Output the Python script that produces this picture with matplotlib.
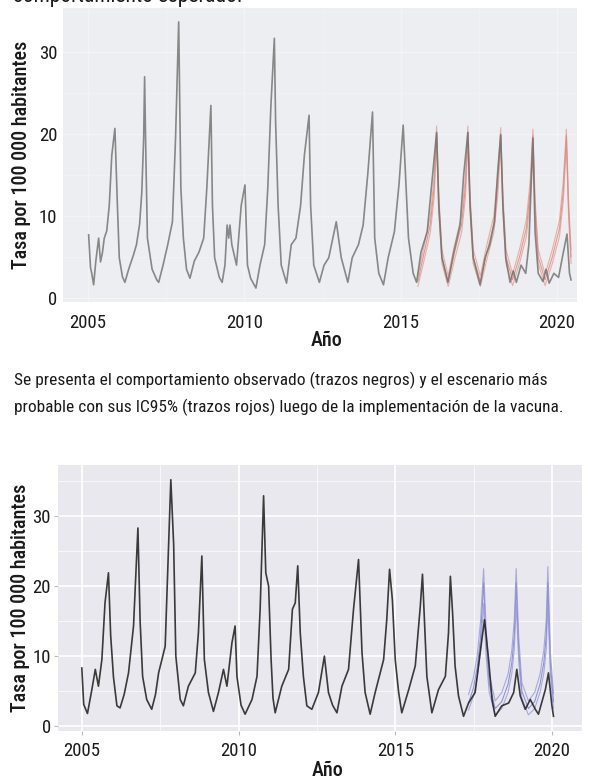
import matplotlib
matplotlib.use("Agg")
import matplotlib.pyplot as plt
from matplotlib import font_manager
from matplotlib.ticker import MultipleLocator

# ---------------- data ----------------
x_ticks = [2005, 2010, 2015, 2020]
y_ticks = [0, 10, 20, 30]

# Top panel: observed (grey) and expected scenario with IC95% (red)
top_obs_years = [2005.02, 2005.08, 2005.12, 2005.18, 2005.25, 2005.30, 2005.34, 2005.40, 2005.46, 2005.52,
                 2005.60, 2005.68, 2005.76, 2005.86, 2005.90, 2005.94, 2006.00, 2006.10, 2006.18, 2006.30,
                 2006.45, 2006.55, 2006.65, 2006.72, 2006.78, 2006.81, 2006.85, 2006.90, 2007.05, 2007.20,
                 2007.26, 2007.40, 2007.55, 2007.70, 2007.80, 2007.90, 2007.93, 2007.97, 2008.05, 2008.15,
                 2008.26, 2008.40, 2008.55, 2008.70, 2008.80, 2008.93, 2008.98, 2009.05, 2009.20, 2009.29,
                 2009.38, 2009.45, 2009.50, 2009.54, 2009.60, 2009.75, 2009.90, 2010.02, 2010.10, 2010.20,
                 2010.37, 2010.50, 2010.65, 2010.75, 2010.85, 2010.96, 2011.00, 2011.08, 2011.18, 2011.35,
                 2011.50, 2011.65, 2011.80, 2011.92, 2012.07, 2012.12, 2012.22, 2012.40, 2012.55, 2012.70,
                 2012.94, 2013.10, 2013.31, 2013.45, 2013.65, 2013.80, 2013.95, 2014.10, 2014.17, 2014.30,
                 2014.45, 2014.60, 2014.80, 2014.95, 2015.08, 2015.15, 2015.25, 2015.40, 2015.51, 2015.65,
                 2015.85, 2015.98, 2016.15, 2016.22, 2016.32, 2016.51, 2016.70, 2016.90, 2017.02, 2017.15,
                 2017.22, 2017.32, 2017.54, 2017.70, 2017.85, 2018.00, 2018.10, 2018.20, 2018.27, 2018.36,
                 2018.50, 2018.60, 2018.70, 2018.85, 2019.00, 2019.10, 2019.23, 2019.30, 2019.40, 2019.55,
                 2019.65, 2019.75, 2019.90, 2020.05, 2020.20, 2020.32, 2020.40, 2020.45]
top_obs_rate = [7.7, 3.7, 3.0, 1.6, 4.5, 6.0, 7.3, 4.4, 5.5, 7.3,
                8.2, 11.3, 17.4, 20.7, 16.0, 11.3, 4.9, 2.6, 1.9, 3.5,
                5.2, 6.5, 9.0, 12.9, 19.5, 27.0, 17.4, 7.3, 3.5, 2.2,
                1.9, 4.0, 6.5, 9.3, 19.5, 33.7, 24.8, 13.4, 7.3, 3.5,
                2.4, 4.5, 5.6, 7.3, 13.4, 23.5, 11.3, 4.9, 2.5, 1.9,
                4.0, 8.9, 7.3, 8.9, 6.5, 4.0, 11.3, 13.8, 4.0, 2.4,
                1.2, 4.0, 6.5, 13.4, 23.5, 31.7, 21.5, 11.3, 4.0, 1.8,
                6.5, 7.3, 11.3, 17.4, 22.3, 11.3, 4.0, 1.9, 4.0, 4.9,
                9.3, 4.9, 1.9, 4.9, 6.5, 8.9, 15.2, 22.7, 7.3, 3.0,
                1.6, 4.9, 8.1, 14.0, 21.1, 15.4, 7.3, 3.0, 1.9, 5.6,
                8.1, 13.4, 20.2, 11.3, 4.9, 1.9, 5.6, 8.9, 15.2, 20.2,
                11.3, 4.9, 1.6, 4.9, 6.5, 9.3, 15.2, 19.9, 11.3, 4.9,
                1.9, 3.3, 1.9, 4.0, 3.0, 6.5, 19.5, 8.0, 3.0, 2.0,
                3.5, 1.8, 3.0, 2.5, 5.5, 7.8, 3.0, 2.2]

top_exp_years = [2015.55, 2015.75, 2015.95, 2016.07, 2016.15, 2016.22, 2016.32, 2016.52, 2016.72, 2016.95,
                 2017.07, 2017.15, 2017.22, 2017.32, 2017.55, 2017.75, 2017.98, 2018.10, 2018.20, 2018.27,
                 2018.37, 2018.58, 2018.80, 2019.02, 2019.14, 2019.23, 2019.30, 2019.40, 2019.62, 2019.85,
                 2020.08, 2020.20, 2020.30, 2020.37, 2020.45]
top_exp_rate = [2.0, 5.5, 9.0, 13.5, 20.2, 11.5, 5.0, 2.0, 5.5, 9.0,
                13.5, 20.2, 11.5, 5.0, 2.0, 5.5, 9.0, 13.5, 20.0, 11.5,
                5.0, 2.2, 5.0, 8.5, 13.0, 19.8, 11.0, 5.0, 2.2, 5.0,
                8.5, 13.0, 19.8, 11.0, 5.0]
top_exp_low = [1.4, 4.6, 8.0, 12.2, 19.0, 10.4, 4.2, 1.4, 4.6, 8.0,
               12.2, 19.0, 10.4, 4.2, 1.4, 4.6, 8.0, 12.2, 18.8, 10.4,
               4.2, 1.5, 4.2, 7.5, 11.8, 18.6, 10.0, 4.2, 1.5, 4.2,
               7.5, 11.8, 18.6, 10.0, 4.2]
top_exp_high = [2.7, 6.4, 10.0, 14.8, 21.0, 12.6, 5.9, 2.7, 6.4, 10.0,
                14.8, 21.0, 12.6, 5.9, 2.7, 6.4, 10.0, 14.8, 20.8, 12.6,
                5.9, 2.9, 5.9, 9.5, 14.2, 20.6, 12.0, 5.9, 2.9, 5.9,
                9.5, 14.2, 20.6, 12.0, 5.9]

# Bottom panel: observed (black) and expected scenario with IC95% (blue)
bot_obs_years = [2005.00, 2005.06, 2005.18, 2005.25, 2005.32, 2005.43, 2005.53, 2005.64, 2005.74, 2005.85,
                 2005.92, 2006.01, 2006.12, 2006.22, 2006.35, 2006.49, 2006.65, 2006.79, 2006.86, 2006.94,
                 2007.07, 2007.23, 2007.35, 2007.45, 2007.66, 2007.77, 2007.84, 2007.93, 2008.00, 2008.14,
                 2008.24, 2008.40, 2008.62, 2008.72, 2008.83, 2008.91, 2009.04, 2009.20, 2009.36, 2009.52,
                 2009.63, 2009.79, 2009.89, 2009.95, 2010.08, 2010.21, 2010.43, 2010.59, 2010.69, 2010.80,
                 2010.87, 2010.96, 2011.04, 2011.10, 2011.17, 2011.38, 2011.60, 2011.72, 2011.81, 2011.89,
                 2011.97, 2012.07, 2012.18, 2012.34, 2012.55, 2012.74, 2012.87, 2013.00, 2013.14, 2013.30,
                 2013.51, 2013.67, 2013.83, 2013.94, 2014.04, 2014.20, 2014.36, 2014.63, 2014.73, 2014.82,
                 2014.91, 2015.00, 2015.11, 2015.21, 2015.43, 2015.64, 2015.80, 2015.87, 2015.94, 2016.01,
                 2016.17, 2016.38, 2016.60, 2016.70, 2016.76, 2016.83, 2016.91, 2017.02, 2017.18, 2017.34,
                 2017.55, 2017.71, 2017.85, 2017.98, 2018.09, 2018.19, 2018.40, 2018.62, 2018.78, 2018.88,
                 2018.99, 2019.15, 2019.31, 2019.47, 2019.57, 2019.79, 2019.89, 2020.00, 2020.05]
bot_obs_rate = [8.3, 3.1, 1.8, 3.5, 5.2, 8.1, 5.7, 9.5, 17.6, 21.9,
                13.0, 7.0, 2.9, 2.6, 4.5, 7.6, 14.3, 28.3, 15.0, 7.1,
                3.8, 2.4, 4.5, 7.6, 11.4, 26.0, 35.2, 26.0, 10.0, 3.8,
                2.9, 5.7, 7.6, 13.3, 24.3, 9.5, 4.8, 2.1, 4.8, 8.1,
                5.7, 11.9, 14.3, 7.1, 3.0, 1.7, 3.8, 7.1, 16.7, 32.9,
                21.9, 20.0, 9.5, 4.0, 1.9, 5.7, 8.1, 16.7, 17.6, 22.9,
                13.3, 7.1, 2.9, 2.4, 4.8, 10.0, 4.8, 3.0, 1.9, 5.7,
                8.1, 16.7, 23.8, 10.5, 4.8, 1.7, 4.8, 9.5, 15.2, 22.4,
                18.0, 9.5, 4.8, 1.9, 5.2, 8.6, 17.1, 21.7, 14.3, 7.1,
                1.9, 5.2, 7.1, 13.3, 21.4, 16.2, 8.6, 4.3, 1.4, 3.3,
                4.8, 10.5, 15.2, 9.5, 3.8, 1.4, 2.9, 3.3, 4.8, 8.1,
                4.3, 2.4, 3.8, 2.4, 1.7, 5.2, 7.6, 2.9, 1.4]

bot_exp_years = [2017.34, 2017.50, 2017.62, 2017.72, 2017.82, 2017.90, 2018.00, 2018.19, 2018.40, 2018.60,
                 2018.72, 2018.80, 2018.86, 2018.94, 2019.04, 2019.25, 2019.45, 2019.62, 2019.74, 2019.82,
                 2019.87, 2019.95, 2020.05]
bot_exp_rate = [3.3, 5.5, 8.5, 12.5, 20.5, 12.0, 6.0, 2.5, 3.5, 6.0,
                9.0, 13.0, 20.5, 11.0, 5.0, 2.5, 3.5, 6.0, 9.0, 13.0,
                20.5, 9.0, 3.5]
bot_exp_low = [2.3, 4.3, 7.0, 10.5, 17.5, 10.0, 4.8, 1.6, 2.5, 4.8,
               7.5, 11.0, 17.5, 9.3, 4.0, 1.6, 2.5, 4.8, 7.5, 11.0,
               17.5, 7.6, 2.5]
bot_exp_high = [4.5, 7.0, 10.2, 14.8, 22.5, 14.0, 7.4, 3.6, 4.8, 7.4,
                10.8, 15.2, 22.5, 12.8, 6.2, 3.6, 4.8, 7.4, 10.8, 15.2,
                22.8, 10.6, 4.6]

# ---------------- font choice (a condensed sans if installed) ----------------
_entries = font_manager.fontManager.ttflist
_names = {f.name for f in _entries}
FONT_STRETCH = 'normal'
SCALE = 1.0
_pick = None
for cand in ['Liberation Sans Narrow', 'Roboto Condensed', 'Open Sans Condensed',
             'Noto Sans Condensed', 'DejaVu Sans Condensed', 'Arial Narrow']:
    if cand in _names:
        _pick = cand
        break
if _pick is None:
    for fam in ['Noto Sans', 'DejaVu Sans', 'Open Sans', 'Roboto']:
        if any(f.name == fam and str(f.stretch) in ('condensed', 'semi-condensed', '500', '600')
               for f in _entries):
            _pick = fam
            FONT_STRETCH = 'condensed'
            break
if _pick is None:
    _pick = 'Liberation Sans'
    SCALE = 0.82
plt.rcParams['font.family'] = [_pick, 'DejaVu Sans']
plt.rcParams['font.stretch'] = FONT_STRETCH

# ---------------- figure ----------------
W, H = 590, 778
fig = plt.figure(figsize=(W / 100, H / 100), dpi=100)
fig.patch.set_facecolor('white')


def px_axes(left, top, right, bottom):
    return fig.add_axes([left / W, 1 - bottom / H, (right - left) / W, (bottom - top) / H])


TXT = '#1a1a1a'
TICK_FS = 13.5 * SCALE
LAB_FS = 14.5 * SCALE
CAP_FS = 12.5 * SCALE
HEAD_FS = 15.5 * SCALE
LAB_W = 'medium'

# ---- top panel ----
ax1 = px_axes(63, 8, 577, 302)
ax1.set_facecolor('#eceef1')
ax1.set_xlim(2004.2, 2020.64)
ax1.set_ylim(-0.5, 35.4)
ax1.xaxis.set_minor_locator(MultipleLocator(2.5))
ax1.yaxis.set_minor_locator(MultipleLocator(5))
ax1.grid(which='major', color='white', lw=1.0, alpha=0.35)
ax1.grid(which='minor', color='white', lw=0.5, alpha=0.3)
ax1.set_axisbelow(True)
ax1.plot(top_exp_years, top_exp_low, color='#e6a39a', lw=0.8, alpha=0.85)
ax1.plot(top_exp_years, top_exp_high, color='#e6a39a', lw=0.8, alpha=0.85)
ax1.plot(top_exp_years, top_exp_rate, color='#d98b80', lw=0.8, alpha=0.85)
ax1.plot(top_obs_years, top_obs_rate, color='#6e6e6e', lw=1.2, alpha=0.8)

# ---- bottom panel ----
ax2 = px_axes(58, 465, 582, 731)
ax2.set_facecolor('#e8e8ee')
ax2.set_xlim(2004.24, 2020.96)
ax2.set_ylim(-0.7, 37.3)
ax2.xaxis.set_minor_locator(MultipleLocator(2.5))
ax2.yaxis.set_minor_locator(MultipleLocator(5))
ax2.grid(which='major', color='white', lw=1.2)
ax2.grid(which='minor', color='white', lw=0.6, alpha=0.8)
ax2.set_axisbelow(True)
ax2.plot(bot_exp_years, bot_exp_low, color='#a7a9de', lw=0.8)
ax2.plot(bot_exp_years, bot_exp_high, color='#a7a9de', lw=0.8)
ax2.plot(bot_exp_years, bot_exp_rate, color='#8f92d2', lw=0.8)
ax2.plot(bot_obs_years, bot_obs_rate, color='#1c1c1c', lw=1.2, alpha=0.85)

for ax in (ax1, ax2):
    for s in ax.spines.values():
        s.set_visible(False)
    ax.set_xticks(x_ticks)
    ax.set_yticks(y_ticks)
    ax.tick_params(axis='both', which='major', length=3, color='#bbbbbb',
                   labelsize=TICK_FS, labelcolor=TXT, pad=2)
    ax.tick_params(axis='both', which='minor', length=0)
    ax.tick_params(axis='x', pad=5)
ax1.tick_params(axis='both', which='major', length=0, pad=4)
ax1.tick_params(axis='x', pad=9)

# axis titles
fig.text(327 / W, 1 - 340 / H, 'Año', ha='center', va='center', fontsize=LAB_FS,
         fontweight=LAB_W, color=TXT)
fig.text(328 / W, 1 - 770 / H, 'Año', ha='center', va='center', fontsize=LAB_FS,
         fontweight=LAB_W, color=TXT)
fig.text(22 / W, 1 - 155 / H, 'Tasa por 100 000 habitantes', ha='center', va='center',
         rotation=90, fontsize=LAB_FS, fontweight=LAB_W, color=TXT)
fig.text(21 / W, 1 - 598 / H, 'Tasa por 100 000 habitantes', ha='center', va='center',
         rotation=90, fontsize=LAB_FS, fontweight=LAB_W, color=TXT)

# caption texts
fig.text(13 / W, 1 - 2 / H, 'comportamiento esperado.', ha='left', va='baseline',
         fontsize=HEAD_FS, color=TXT)
fig.text(14 / W, 1 - 380 / H,
         'Se presenta el comportamiento observado (trazos negros) y el escenario más',
         ha='left', va='center', fontsize=CAP_FS, color=TXT)
fig.text(14 / W, 1 - 407 / H,
         'probable con sus IC95% (trazos rojos) luego de la implementación de la vacuna.',
         ha='left', va='center', fontsize=CAP_FS, color=TXT)

fig.savefig('out.png', dpi=100, facecolor='white')
